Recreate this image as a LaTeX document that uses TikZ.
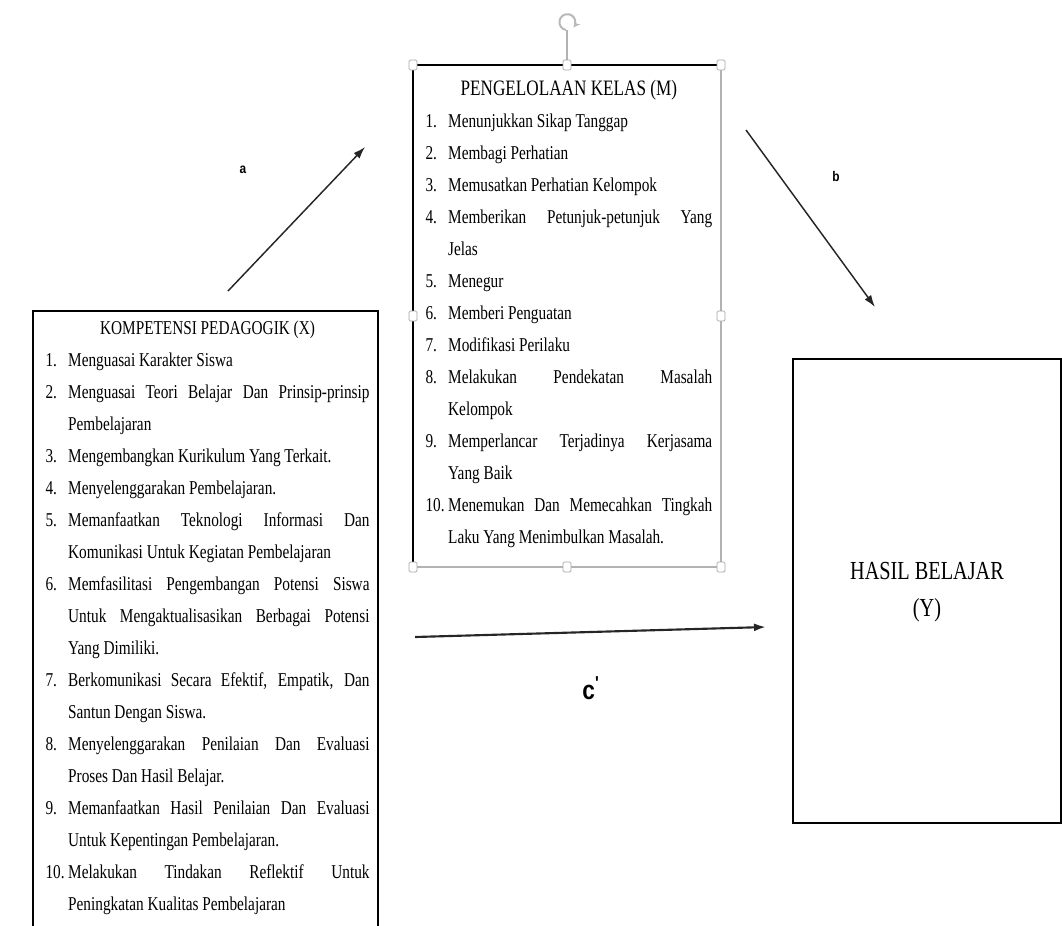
\documentclass[tikz,border=0pt]{standalone}
\usepackage{fontspec}
\setmainfont{Liberation Serif}[FakeStretch=0.78]
\newfontfamily\hurufpanah{Liberation Sans}[FakeStretch=0.85]
\usepackage{enumitem}
\usetikzlibrary{arrows.meta}
\setlist[enumerate]{leftmargin=17pt, labelwidth=17pt, labelsep=0pt, align=left,
  itemsep=0pt, topsep=0pt, parsep=0pt, partopsep=0pt}
\tolerance=10000
\hyphenpenalty=10000

\begin{document}
\begin{tikzpicture}[x=0.75pt, y=-0.75pt, line width=0.8pt,
    daftar/.style={anchor=north west, align=justify, inner sep=0pt,
                   font=\fontsize{14.7}{24}\selectfont},
    panah/.style={-{Latex[length=9pt,width=6pt]}, line width=1.1pt, black!85},
    huruf/.style={font=\hurufpanah\bfseries\fontsize{10.5}{12}\selectfont}]

    % Pegangan seleksi (kotak kecil putih)
    \newcommand{\pegangan}[2]{
        \draw[gray!70, fill=white, rounded corners=1pt, line width=0.6pt]
            (#1-4, #2-5) rectangle (#1+4, #2+5);
    }

    \useasboundingbox (0,0) rectangle (1062,925);

    % -- Kotak kiri: Kompetensi Pedagogik (X) --
    \draw (33,311) rectangle (378,940);
    \node[daftar, text width=243pt] (teksX) at (45,320) {%
        {\centering KOMPETENSI PEDAGOGIK (X)\par}
        \begin{enumerate}
            \item Menguasai Karakter Siswa
            \item Menguasai Teori Belajar Dan Prinsip-prinsip\linebreak Pembelajaran
            \item Mengembangkan Kurikulum Yang Terkait.
            \item Menyelenggarakan Pembelajaran.
            \item Memanfaatkan Teknologi Informasi Dan\linebreak Komunikasi Untuk Kegiatan Pembelajaran
            \item Memfasilitasi Pengembangan Potensi Siswa\linebreak Untuk Mengaktualisasikan Berbagai Potensi\linebreak Yang Dimiliki.
            \item Berkomunikasi Secara Efektif, Empatik, Dan\linebreak Santun Dengan Siswa.
            \item Menyelenggarakan Penilaian Dan Evaluasi\linebreak Proses Dan Hasil Belajar.
            \item Memanfaatkan Hasil Penilaian Dan Evaluasi\linebreak Untuk Kepentingan Pembelajaran.
            \item Melakukan Tindakan Reflektif Untuk\linebreak Peningkatan Kualitas Pembelajaran
        \end{enumerate}};

    % -- Kotak tengah: Pengelolaan Kelas (M), sedang terpilih --
    \draw[gray!60] (413,65) rectangle (721,567);
    \draw[line width=1.6pt] (413,567) -- (413,65) -- (721,65);
    \node[daftar, text width=215pt] (teksM) at (425,80) {%
        {\centering\fontsize{16.5}{24}\selectfont PENGELOLAAN KELAS (M)\par}
        \begin{enumerate}
            \item Menunjukkan Sikap Tanggap
            \item Membagi Perhatian
            \item Memusatkan Perhatian Kelompok
            \item Memberikan Petunjuk-petunjuk Yang\linebreak Jelas
            \item Menegur
            \item Memberi Penguatan
            \item Modifikasi Perilaku
            \item Melakukan Pendekatan Masalah\linebreak Kelompok
            \item Memperlancar Terjadinya Kerjasama\linebreak Yang Baik
            \item Menemukan Dan Memecahkan Tingkah\linebreak Laku Yang Menimbulkan Masalah.
        \end{enumerate}};

    % pegangan putar
    \draw[gray!60] (567,60) -- (567,30);
    \draw[gray!55, line width=1.5pt, -{Stealth[length=5pt,width=5pt]}]
        (566,30) arc[start angle=100, end angle=400, radius=8];

    \pegangan{413}{65}  \pegangan{567}{65}  \pegangan{721}{65}
    \pegangan{413}{316}                     \pegangan{721}{316}
    \pegangan{413}{567} \pegangan{567}{567} \pegangan{721}{567}

    % -- Kotak kanan: Hasil Belajar (Y) --
    \draw (793,359) rectangle (1061,823);
    \node[font=\fontsize{19.5}{28}\selectfont, align=center] (teksY) at (927,592)
        {HASIL BELAJAR\\(Y)};

    % -- Panah a, b, c' --
    \coordinate (a0) at (228,291);
    \coordinate (a1) at (365,147);
    \coordinate (b0) at (746,130);
    \coordinate (b1) at (875,307);
    \coordinate (c0) at (415,637);
    \coordinate (c1) at (766,627);

    \draw[panah] (a0) -- (a1);
    \draw[panah] (b0) -- (b1);
    \draw[panah, line width=1.6pt] (c0) -- (c1);

    \node[huruf] (la) at (243,170) {a};
    \node[huruf] (lb) at (836,176) {b};
    \node[huruf, font=\hurufpanah\bfseries\fontsize{20}{20}\selectfont] (lc) at (591,688)
        {c\textsuperscript{'}};

\end{tikzpicture}
\end{document}
